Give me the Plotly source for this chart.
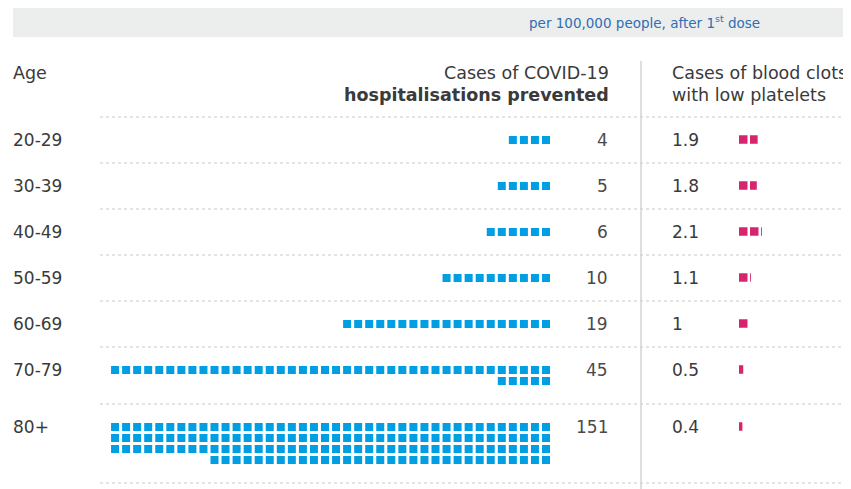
import math
import plotly.graph_objects as go

# ---------------- data ----------------
ages = ["20-29", "30-39", "40-49", "50-59", "60-69", "70-79", "80+"]
prevented = [4, 5, 6, 10, 19, 45, 151]
clots = [1.9, 1.8, 2.1, 1.1, 1, 0.5, 0.4]
prevented_labels = ["4", "5", "6", "10", "19", "45", "151"]
clot_labels = ["1.9", "1.8", "2.1", "1.1", "1", "0.5", "0.4"]

# ---------------- layout constants ----------------
PAGE_W, PAGE_H = 851, 489
OFF = 8  # default page body margin
FONT = "DejaVu Sans"
BLUE = "#009fe3"
PINK = "#d6246e"
TXT = "#3a3a3a"
HSIZE = 17.5
RSIZE = 17
PER_ROW = 40
BPITCH = 11.05
BSIZE = 8
BLUE_RIGHT = 550
PPITCH = 11
PSIZE = 8.5
PINK_LEFT = 739
FIRST_TOP = 117
LINE_H = 11

fig = go.Figure()
shapes = []
annotations = []


def txt(x, y, text, anchor, size, color=TXT, xshift=0):
    annotations.append(dict(x=x, y=y, xref="x", yref="y", xanchor=anchor, yanchor="middle",
                            text=text, showarrow=False, xshift=xshift,
                            font=dict(family=FONT, size=size, color=color)))


# header band
shapes.append(dict(type="rect", xref="x", yref="y", x0=13, x1=PAGE_W, y0=6, y1=37,
                   fillcolor="#eceeed", line=dict(width=0), layer="below"))
txt(762, 22, "per 100,000 people, after 1<sup>st</sup> dose", "right", 13.5, "#2f6db5")

# column headers
txt(13, 73, "Age", "left", HSIZE, xshift=-2)
txt(611, 73, "Cases of COVID-19", "right", HSIZE)
txt(611, 95, "<b>hospitalisations prevented</b>", "right", HSIZE)
txt(672, 73, "Cases of blood clots", "left", HSIZE, xshift=-2)
txt(672, 95, "with low platelets", "left", HSIZE, xshift=-2)

# vertical divider
shapes.append(dict(type="line", xref="x", yref="y", x0=641, x1=641, y0=61, y1=PAGE_H,
                   line=dict(color="#d3d3d3", width=1.5)))

bx, by = [], []
top = FIRST_TOP
seps = [top]
for age, n, c, nl, cl in zip(ages, prevented, clots, prevented_labels, clot_labels):
    lines = math.ceil(n / PER_ROW)
    yc = top + 23
    # blue unit squares, right-aligned, 40 per line
    for i in range(n):
        row, col = divmod(i, PER_ROW)
        bx.append(BLUE_RIGHT - BSIZE / 2 - col * BPITCH)
        by.append(yc + row * LINE_H)
    # pink squares, proportional partial last square
    k = 0
    rem = c
    while rem > 1e-9:
        w = min(rem, 1.0) * PSIZE
        x0 = PINK_LEFT + k * PPITCH
        shapes.append(dict(type="rect", xref="x", yref="y", x0=x0, x1=x0 + w,
                           y0=yc - PSIZE / 2 - 0.5, y1=yc + PSIZE / 2 - 0.5,
                           fillcolor=PINK, line=dict(width=0)))
        rem -= 1
        k += 1
    txt(13, yc, age, "left", RSIZE, xshift=-2)
    txt(610, yc, nl, "right", RSIZE, "#4a4a4a")
    txt(672, yc, cl, "left", RSIZE, xshift=-2)
    top += 35 + LINE_H * lines
    seps.append(top)

for s in seps:
    shapes.append(dict(type="line", xref="x", yref="y", x0=100, x1=PAGE_W, y0=s, y1=s,
                       line=dict(color="#c8c8c8", width=1, dash="dot"), layer="below"))

fig.add_trace(go.Scatter(x=bx, y=by, mode="markers", hoverinfo="skip",
                         marker=dict(symbol="square", size=BSIZE, color=BLUE, line=dict(width=0))))

fig.update_layout(
    width=PAGE_W - OFF, height=PAGE_H - OFF, margin=dict(l=0, r=0, t=0, b=0),
    paper_bgcolor="white", plot_bgcolor="white", showlegend=False,
    xaxis=dict(range=[OFF, PAGE_W], visible=False, fixedrange=True),
    yaxis=dict(range=[PAGE_H, OFF], visible=False, fixedrange=True),
    shapes=shapes, annotations=annotations,
)
fig.write_html("out.html", config={"displayModeBar": False})
